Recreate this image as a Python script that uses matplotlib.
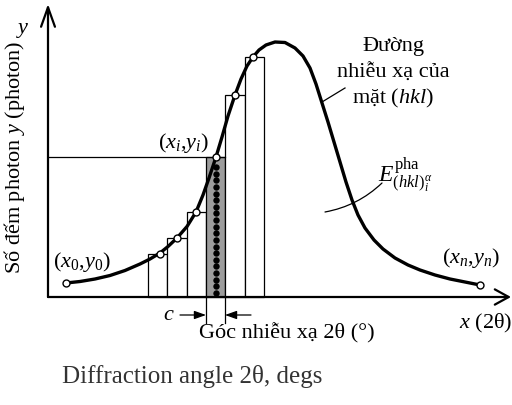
import numpy as np
import matplotlib
matplotlib.use("Agg")
import matplotlib.pyplot as plt
from matplotlib.patches import Rectangle

plt.rcParams['font.family'] = ['Liberation Serif', 'DejaVu Serif']
plt.rcParams['mathtext.fontset'] = 'custom'
plt.rcParams['mathtext.rm'] = 'Liberation Serif'
plt.rcParams['mathtext.it'] = 'Liberation Serif:italic'
plt.rcParams['mathtext.bf'] = 'Liberation Serif:bold'

# ---- data (schematic units: origin at the axes corner) ----
curve_x = [18, 32, 47, 62, 77, 92, 102, 112, 120, 129, 139, 148, 155, 161,
           168, 174, 180, 187, 193, 199, 205, 211, 218, 227, 237, 247, 255,
           262, 268, 274, 280, 286, 292, 298, 304, 310, 317, 326, 335, 347,
           360, 372, 387, 402, 417, 432]
curve_y = [14, 15.5, 18, 21.5, 26.5, 33, 38, 44, 50.5, 59, 70.5, 85, 102, 119,
           140, 160, 181, 202, 218, 231, 240, 247, 252, 255, 254.5, 249, 241,
           229, 213, 194, 175, 155, 135, 115, 97, 82, 69, 57, 48, 39,
           32, 27, 22, 18, 15, 12]

bar_left = [100, 119, 139, 158, 177, 197]
bar_width = [19, 20, 19, 19, 20, 19]
bar_height = [43, 59, 85, 140, 202, 240]
marker_x = [112, 129, 148, 168, 187, 205]
highlight = 3  # index of the shaded bar
n_dots = 20

fig = plt.figure(figsize=(5.12, 4.05), dpi=100)
ax = fig.add_axes([0, 0, 1, 1])
ax.set_xlim(-48, 464)
ax.set_ylim(-108, 297)
ax.axis('off')

# bars
for i, (l, w, h) in enumerate(zip(bar_left, bar_width, bar_height)):
    fc = '#9c9c9c' if i == highlight else 'white'
    ax.add_patch(Rectangle((l, 0), w, h, facecolor=fc, edgecolor='black', lw=0.9, zorder=2))

# horizontal guide to (xi, yi)
hb = bar_height[highlight]
ax.plot([0, bar_left[highlight] + bar_width[highlight]], [hb, hb], color='black', lw=0.9, zorder=2)

# dots in shaded bar
dx = marker_x[highlight]
dot_y = np.linspace(hb - 10, 4, n_dots)
ax.plot([dx] * n_dots, dot_y, 'o', color='black', mec='none', ms=4.6, zorder=3)

# curve
ax.plot(curve_x, curve_y, color='black', lw=2.4, zorder=4,
        solid_capstyle='round', solid_joinstyle='round')

# open markers on curve
mx = [curve_x[0]] + marker_x + [curve_x[-1]]
my = [curve_y[0]] + bar_height + [curve_y[-1]]
ax.plot(mx, my, 'o', mfc='white', mec='black', ms=5, mew=1.0, zorder=5)

# axes with arrows
ax.annotate('', xy=(0, 293), xytext=(0, 0),
            arrowprops=dict(arrowstyle='->,head_length=1.4,head_width=0.5', lw=1.6,
                            color='black', shrinkA=0, shrinkB=0), zorder=6)
ax.annotate('', xy=(463, 0), xytext=(0, 0),
            arrowprops=dict(arrowstyle='->,head_length=1.0,head_width=0.55', lw=1.6,
                            color='black', shrinkA=0, shrinkB=0), zorder=6)

# c width markers
l0 = bar_left[highlight]
r0 = l0 + bar_width[highlight]
ax.plot([l0, l0], [0, -26], color='black', lw=0.9)
ax.plot([r0, r0], [0, -26], color='black', lw=0.9)
ax.annotate('', xy=(l0, -18), xytext=(l0 - 26, -18),
            arrowprops=dict(arrowstyle='-|>,head_length=0.7,head_width=0.25', lw=0.9,
                            color='black', shrinkA=0, shrinkB=0))
ax.annotate('', xy=(r0, -18), xytext=(r0 + 26, -18),
            arrowprops=dict(arrowstyle='-|>,head_length=0.7,head_width=0.25', lw=0.9,
                            color='black', shrinkA=0, shrinkB=0))

fs = 16
ax.text(121, -18, r'$c$', fontsize=fs, ha='center', va='center')
ax.text(239, -36, 'Góc nhiễu xạ 2θ (°)', fontsize=fs, ha='center', va='center')
ax.text(464, -26, r'$x$ (2θ)', fontsize=fs, ha='right', va='center')
ax.text(-25, 267, r'$y$', fontsize=fs, ha='center', va='center')
ax.text(-33, 140, r'Số đếm photon $y$ (photon)', fontsize=fs, ha='center',
        va='center', rotation=90)

ax.text(135, 154, r'$\mathrm{(}x_i\mathrm{,}y_i\mathrm{)}$', fontsize=fs, ha='center', va='center')
ax.text(34, 35, r'$\mathrm{(}x_0\mathrm{,}y_0\mathrm{)}$', fontsize=fs, ha='center', va='center')
ax.text(423, 39, r'$\mathrm{(}x_n\mathrm{,}y_n\mathrm{)}$', fontsize=fs, ha='center', va='center')

ax.text(345, 250, 'Đường', fontsize=fs, ha='center', va='center')
ax.text(345, 224, 'nhiễu xạ của', fontsize=fs, ha='center', va='center')
ax.text(345, 199, r'mặt ($hkl$)', fontsize=fs, ha='center', va='center')
ax.plot([297, 274], [209, 195], color='black', lw=0.9)

ax.text(330, 122, r'$E^{\mathrm{pha}}_{(hkl)_i^{\alpha}}$', fontsize=17, ha='left', va='center')
ax.annotate('', xy=(277, 85), xytext=(334, 114),
            arrowprops=dict(arrowstyle='-', lw=0.9, color='black', shrinkA=0, shrinkB=0,
                            connectionstyle='arc3,rad=-0.15'))

ax.text(144, -80, 'Diffraction angle 2θ, degs', fontsize=18, ha='center', va='center',
        color='#333333')

fig.savefig('out.png', dpi=100)
